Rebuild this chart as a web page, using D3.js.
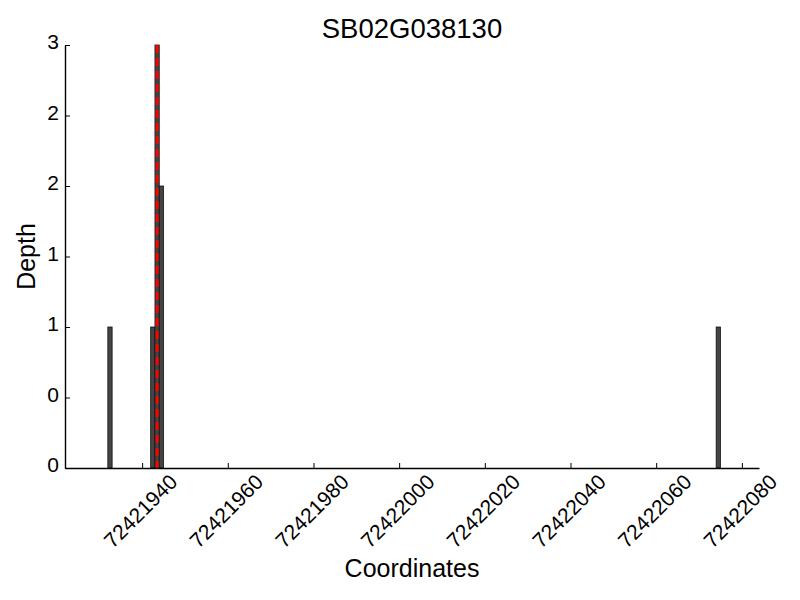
<!DOCTYPE html>
<html>
<head>
<meta charset="utf-8">
<script src="https://cdn.jsdelivr.net/npm/d3@7"></script>
<style>
	body { margin: 0; background: #fff; }
	text { font-family: "Liberation Sans", Arial, sans-serif; fill: #000; }
</style>
</head>
<body>
<div id="chart"></div>
<script>
// data
const title      = 'SB02G038130';
const positions  = [72421932, 72421942, 72421943, 72421944, 72422074];
const depths     = [1, 1, 3, 2, 1];
const markerPos  = [72421943.5];
const xDomain    = [72421922, 72422084];
const xTicks     = [72421940, 72421960, 72421980, 72422000, 72422020, 72422040, 72422060, 72422080];
const yTicks     = [0, 0.5, 1, 1.5, 2, 2.5, 3];

let width  = 800,
	height = 600,
	margin = {top: 45, right: 41, bottom: 132, left: 65},
	innerW = width - margin.left - margin.right,
	innerH = height - margin.top - margin.bottom;

let svg = d3.select('#chart').append('svg')
			.attr('width', width)
			.attr('height', height);

let g = svg.append('g')
			.attr('transform', `translate(${margin.left}, ${margin.top})`);

let x = d3.scaleLinear().domain(xDomain).range([0, innerW]);
let y = d3.scaleLinear().domain([0, 3]).range([innerH, 0]);

// bars, one coordinate wide
g.selectAll('rect.bar')
	.data(positions.map((p, i) => ({pos: p, depth: depths[i]})))
	.enter().append('rect')
	.attr('class', 'bar')
	.attr('x', d => x(d.pos))
	.attr('y', d => y(d.depth))
	.attr('width', d => x(d.pos + 1) - x(d.pos))
	.attr('height', d => y(0) - y(d.depth))
	.style('fill', '#444')
	.style('stroke', '#111')
	.style('stroke-width', 0.8);

// marker line
g.selectAll('line.marker')
	.data(markerPos).enter().append('line')
	.attr('class', 'marker')
	.attr('x1', d => x(d)).attr('x2', d => x(d))
	.attr('y1', y(3)).attr('y2', y(0))
	.style('stroke', '#ff0000')
	.style('stroke-width', 3)
	.style('stroke-dasharray', '8,5');

// axes, ticks pointing inward
let xAxis = g.append('g')
	.attr('transform', `translate(0, ${innerH})`)
	.call(d3.axisBottom(x).tickValues(xTicks).tickSizeInner(-5).tickSizeOuter(0).tickFormat(d3.format('d')));

xAxis.selectAll('text')
	.attr('y', 0).attr('dy', '0.35em')
	.attr('transform', 'translate(-2, 43) rotate(-45)')
	.style('text-anchor', 'middle')
	.style('font-size', '21px');

let yAxis = g.append('g')
	.call(d3.axisLeft(y).tickValues(yTicks).tickSizeInner(-5).tickSizeOuter(0).tickFormat(d => Math.floor(d)));

yAxis.selectAll('text')
	.attr('x', -6)
	.attr('y', -3)
	.style('font-size', '21px');

g.selectAll('.domain').style('stroke', '#000').style('stroke-width', 1.4);
g.selectAll('.tick line').style('stroke', '#000').style('stroke-width', 1);

// titles
svg.append('text')
	.attr('x', margin.left + innerW / 2)
	.attr('y', 38)
	.attr('text-anchor', 'middle')
	.style('font-size', '27.5px')
	.text(title);

svg.append('text')
	.attr('x', margin.left + innerW / 2)
	.attr('y', 577)
	.attr('text-anchor', 'middle')
	.style('font-size', '25px')
	.text('Coordinates');

svg.append('text')
	.attr('transform', `translate(35, ${margin.top + innerH / 2}) rotate(-90)`)
	.attr('text-anchor', 'middle')
	.style('font-size', '25px')
	.text('Depth');
</script>
</body>
</html>
